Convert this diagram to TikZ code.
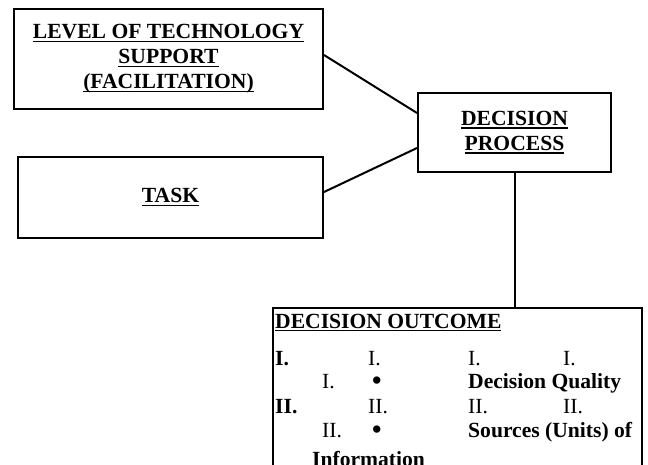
\documentclass[tikz,border=0pt]{standalone}
\usepackage{fontspec}
\setmainfont{Liberation Serif}
\usetikzlibrary{calc}
\newlength\ulwid
\newcommand\ulc[1]{\settowidth\ulwid{#1}\rlap{\rule[-3.4pt]{\ulwid}{1.6pt}}#1}
\newcommand\bigbul{\smash{\fontsize{27}{27}\selectfont\bfseries\raisebox{-1pt}{•}}}
\tikzset{
  boxstyle/.style={draw, line width=2pt, rectangle, inner sep=0pt},
  bigtext/.style={font=\fontsize{21.6}{25}\selectfont\bfseries},
  rowtext/.style={font=\fontsize{21.6}{25}\selectfont, anchor=base west, inner sep=0pt},
  rowbold/.style={rowtext, font=\fontsize{21.6}{25}\selectfont\bfseries},
  conn/.style={line width=2pt},
}
\begin{document}
\begin{tikzpicture}[x=1pt,y=-1pt]
\useasboundingbox (0,0) rectangle (648,464);
\clip (0,0) rectangle (648,464);
\node[boxstyle, minimum width=309pt, minimum height=100pt, bigtext, align=center] (lvl) at (168.5,59)
  {\ulc{LEVEL OF TECHNOLOGY}\\\ulc{SUPPORT}\\\ulc{(FACILITATION)}};
\node[boxstyle, minimum width=305pt, minimum height=81pt, bigtext] (task) at (170.5,197.5) {\ulc{TASK}};
\node[boxstyle, minimum width=193pt, minimum height=79pt, bigtext, align=center] (dp) at (514.5,132.5)
  {\ulc{DECISION}\\\ulc{PROCESS}};
\node[boxstyle, minimum width=369pt, minimum height=200pt] (out) at (457.5,408) {};
\draw[conn] ($(lvl.east)+(0,-4)$) -- ($(dp.west)+(0,-19.5)$);
\draw[conn] ($(task.east)+(0,-5.5)$) -- ($(dp.west)+(0,15.5)$);
\draw[conn] (dp.south -| 515,0) -- (out.north -| 515,0);
% outcome contents
\node[rowbold] (ot) at (275,328) {\ulc{DECISION OUTCOME}};
\node[rowbold] (r1a) at (275,365) {I.};
\node[rowtext] (r1b) at (368,365) {I.};
\node[rowtext] (r1c) at (468,365) {I.};
\node[rowtext] (r1d) at (563,365) {I.};
\node[rowtext] (r2a) at (322,388) {I.};
\node[rowtext] (r2b) at (372,388) {\bigbul};
\node[rowbold] (r2c) at (468,388) {Decision Quality};
\node[rowbold] (r3a) at (275,413) {II.};
\node[rowtext] (r3b) at (368,413) {II.};
\node[rowtext] (r3c) at (468,413) {II.};
\node[rowtext] (r3d) at (563,413) {II.};
\node[rowtext] (r4a) at (322,437) {II.};
\node[rowtext] (r4b) at (372,437) {\bigbul};
\node[rowbold] (r4c) at (468,437) {Sources (Units) of};
\node[rowbold] (r5a) at (312,466) {Information};
\end{tikzpicture}
\end{document}
